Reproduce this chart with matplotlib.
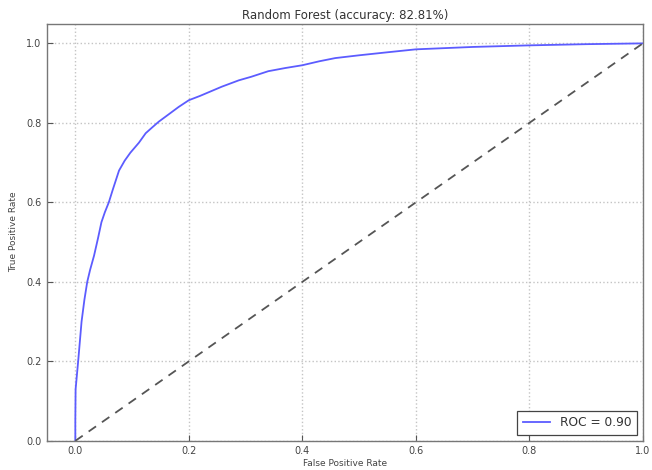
import matplotlib
matplotlib.use("Agg")
import matplotlib.pyplot as plt

# ROC curve points
fpr = [0.0, 0.0, 0.0005, 0.005, 0.011, 0.016, 0.021, 0.026, 0.033, 0.040, 0.046, 0.052,
       0.059, 0.066, 0.077, 0.087, 0.097, 0.112, 0.124, 0.135, 0.147, 0.165, 0.182,
       0.2, 0.22, 0.258, 0.288, 0.31, 0.34, 0.37, 0.4, 0.43, 0.458, 0.5, 0.546,
       0.6, 0.65, 0.7, 0.75, 0.8, 0.9, 1.0]
tpr = [0.0, 0.05, 0.13, 0.2, 0.3, 0.355, 0.4, 0.43, 0.466, 0.51, 0.55, 0.575,
       0.6, 0.632, 0.68, 0.705, 0.725, 0.75, 0.774, 0.788, 0.803, 0.822, 0.84,
       0.857, 0.868, 0.891, 0.907, 0.916, 0.93, 0.938, 0.945, 0.955, 0.963, 0.970, 0.977,
       0.985, 0.988, 0.991, 0.993, 0.995, 0.998, 1.0]
diag = [0.0, 1.0]
title = "Random Forest (accuracy: 82.81%)"
roc_label = "ROC = 0.90"
ticks = [0.0, 0.2, 0.4, 0.6, 0.8, 1.0]

fig = plt.figure(figsize=(6.52, 4.70), dpi=100)
ax = fig.add_axes([0.072, 0.062, 0.914, 0.888])

ax.plot(fpr, tpr, color="#5c5cff", lw=1.3, label=roc_label)
ax.plot(diag, diag, color="#555555", ls="--", lw=1.3, dashes=(5, 4))

ax.set_xlim(-0.05, 1.0)
ax.set_ylim(0.0, 1.05)
ax.set_xticks(ticks)
ax.set_yticks(ticks)
ax.set_xticklabels([f"{t:.1f}" for t in ticks])
ax.set_yticklabels([f"{t:.1f}" for t in ticks])
ax.grid(True, color="#c4c4c4", ls=":", lw=1.0)
ax.tick_params(direction="in", length=4, labelsize=7, colors="#555555", labelcolor="#444444", pad=4)
ax.tick_params(top=False, right=False)
for s in ax.spines.values():
    s.set_color("#777777")
    s.set_linewidth(1.0)

ax.set_title(title, fontsize=8.5, color="#333333", pad=3)
ax.set_xlabel("False Positive Rate", fontsize=6.5, color="#444444", labelpad=2)
ax.set_ylabel("True Positive Rate", fontsize=6.5, color="#444444", labelpad=6)

leg = ax.legend(loc="lower right", fontsize=8.8, fancybox=False, framealpha=1,
                edgecolor="#444444", handlelength=2.2, borderpad=0.45)
leg.get_frame().set_linewidth(0.9)
for t in leg.get_texts():
    t.set_color("#333333")

fig.savefig("out.png", dpi=100)
